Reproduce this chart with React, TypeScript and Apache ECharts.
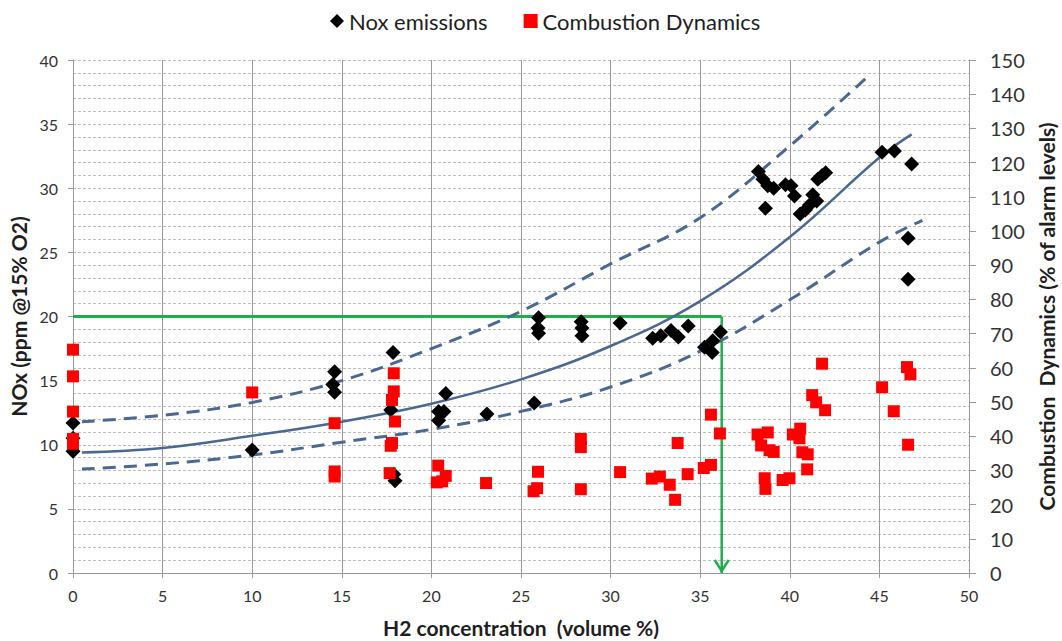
import React, { useEffect, useRef } from "react";
import * as echarts from "echarts";

// NOx emissions vs H2 concentration (left axis, ppm @15% O2)
const noxEmissions: [number, number][] = [
  [0, 11.7], [0, 10.5], [0, 9.5], [10, 9.6],
  [14.6, 15.7], [14.5, 14.7], [14.6, 14.1],
  [17.86, 17.2], [17.73, 12.7], [17.9, 7.7], [17.97, 7.2],
  [20.8, 14.0], [20.4, 12.6], [20.7, 12.6], [20.4, 11.9],
  [23.1, 12.4], [25.74, 13.25],
  [25.98, 19.9], [25.95, 19.1], [25.98, 18.7],
  [28.36, 19.6], [28.4, 19.1], [28.4, 18.5], [30.53, 19.5],
  [32.35, 18.3], [32.8, 18.5], [33.37, 18.9], [33.78, 18.4], [34.33, 19.25],
  [35.24, 17.6], [35.67, 17.2], [35.7, 18.1], [36.13, 18.8],
  [38.25, 31.3], [38.5, 30.7], [38.77, 30.2], [39.1, 30.0], [38.64, 28.45],
  [39.76, 30.27], [40.07, 30.2], [40.26, 29.4], [40.58, 28.0], [40.87, 28.3],
  [41.1, 28.7], [41.28, 29.5], [41.5, 29.0], [41.56, 30.7], [41.8, 31.0], [42.0, 31.2],
  [45.15, 32.8], [45.84, 32.9], [46.8, 31.9], [46.6, 26.1], [46.6, 22.9],
];

// Combustion dynamics vs H2 concentration (right axis, % of alarm levels)
const combustionDynamics: [number, number][] = [
  [0, 65.3], [0, 57.5], [0, 47.2], [0, 39.2], [0, 37.8],
  [10, 52.8],
  [14.6, 43.8], [14.6, 29.7], [14.6, 28.2],
  [17.9, 58.4], [17.9, 53.1], [17.8, 50.6], [17.97, 44.3], [17.73, 37.2], [17.8, 38.0], [17.67, 29.2],
  [20.38, 31.4], [20.3, 26.5], [20.8, 28.4], [20.6, 26.8],
  [23.05, 26.3],
  [25.95, 29.6], [25.9, 24.8], [25.7, 23.9],
  [28.34, 39.2], [28.34, 36.8], [28.34, 24.5],
  [30.53, 29.5],
  [32.3, 27.6], [32.75, 28.2], [33.3, 25.8], [33.6, 21.4], [33.74, 38.0], [34.3, 28.9],
  [35.2, 30.7], [35.6, 31.6], [35.6, 46.3], [36.1, 40.8],
  [38.2, 40.5], [38.77, 41.1], [38.4, 37.3], [38.87, 35.9], [39.1, 35.4], [38.6, 27.7], [38.64, 24.6],
  [39.6, 27.2], [39.98, 27.7], [40.17, 40.5], [40.58, 42.2], [40.54, 39.4], [40.7, 35.3], [41.0, 34.7], [40.97, 30.3],
  [41.25, 52.0], [41.47, 49.9], [41.97, 47.6], [41.8, 61.2],
  [45.15, 54.3], [45.8, 47.3], [46.54, 60.2], [46.73, 58.1], [46.6, 37.5],
];

// NOx trend curve and its upper / lower bands
const trendFit: [number, number][] = [
  [0.5, 9.4], [5, 9.75], [10, 10.7], [15, 11.8], [20, 13.2], [25, 15.1],
  [30, 17.7], [35, 21.2], [40, 26.2], [45, 32.4], [46.8, 34.2],
];
const trendUpper: [number, number][] = [
  [0.5, 11.8], [5, 12.3], [10, 13.3], [15, 15.0], [20, 17.5], [25, 20.4],
  [30, 24.1], [35, 27.7], [40, 33.3], [44.5, 38.9],
];
const trendLower: [number, number][] = [
  [0.5, 8.1], [5, 8.5], [10, 9.2], [15, 10.2], [20, 11.2], [25, 12.6],
  [30, 14.5], [35, 17.3], [40, 21.3], [45, 25.8], [47.4, 27.5],
];

// NOx limit and the H2 concentration where the trend reaches it
const noxLimit = 20;
const h2AtLimit = 36.2;

const FONT = "Lato, 'Open Sans', sans-serif";
const GREEN = "#22ad4a";
const TREND = "#4a6892";
const TEXT = "#1e1e1e";

export default function App() {
  const ref = useRef<HTMLDivElement>(null);

  useEffect(() => {
    const chart = echarts.init(ref.current!, null, { renderer: "svg" });
    chart.setOption({
      animation: false,
      backgroundColor: "#ffffff",
      textStyle: { fontFamily: FONT },
      legend: {
        top: 5,
        left: 325,
        itemGap: 36,
        itemWidth: 14,
        itemHeight: 14,
        textStyle: { fontFamily: FONT, fontSize: 22, color: TEXT },
        data: [
          { name: "Nox emissions", icon: "diamond" },
          { name: "Combustion Dynamics", icon: "rect" },
        ],
      },
      grid: {
        left: 73,
        right: 93,
        top: 60,
        bottom: 68,
        containLabel: false,
        outerBoundsMode: "none",
      },
      xAxis: {
        type: "value",
        min: 0,
        max: 50,
        interval: 5,
        name: "H2 concentration  (volume %)",
        nameLocation: "middle",
        nameGap: 44,
        nameTextStyle: { fontFamily: FONT, fontSize: 21, fontWeight: "bold", color: TEXT },
        axisLine: { show: true, lineStyle: { color: "#9a9a9a", width: 1 } },
        axisTick: { show: true, length: 5, lineStyle: { color: "#9a9a9a" } },
        axisLabel: { fontFamily: FONT, fontSize: 16, color: "#333", margin: 14 },
        splitLine: { show: true, lineStyle: { color: "#999999", width: 1 } },
      },
      yAxis: [
        {
          type: "value",
          min: 0,
          max: 40,
          interval: 5,
          position: "left",
          name: "NOx (ppm @15% O2)",
          nameLocation: "middle",
          nameRotate: 90,
          nameGap: 40,
          nameTextStyle: { fontFamily: FONT, fontSize: 21, fontWeight: "bold", color: TEXT },
          axisLine: { show: true, lineStyle: { color: "#9a9a9a", width: 1 } },
          axisTick: { show: true, length: 5, lineStyle: { color: "#9a9a9a" } },
          axisLabel: { fontFamily: FONT, fontSize: 16, color: "#333", margin: 15 },
          splitLine: { show: true, lineStyle: { color: "#bdbdbd", type: [3, 2], width: 1 } },
          minorTick: { show: false, splitNumber: 5 },
          minorSplitLine: { show: true, lineStyle: { color: "#bdbdbd", type: [3, 2], width: 1 } },
        },
        {
          type: "value",
          min: 0,
          max: 150,
          interval: 10,
          position: "right",
          name: "Combustion  Dynamics (% of alarm levels)",
          nameLocation: "middle",
          nameRotate: 90,
          nameGap: 67,
          nameTextStyle: { fontFamily: FONT, fontSize: 21, fontWeight: "bold", color: TEXT },
          axisLine: { show: true, lineStyle: { color: "#9a9a9a", width: 1 } },
          axisTick: { show: true, length: 7, lineStyle: { color: "#9a9a9a" } },
          axisLabel: { fontFamily: FONT, fontSize: 20, color: "#333", margin: 21 },
          splitLine: { show: false },
        },
      ],
      series: [
        {
          name: "limit",
          type: "line",
          yAxisIndex: 0,
          data: [[0, noxLimit], [h2AtLimit, noxLimit]],
          showSymbol: false,
          symbol: "none",
          lineStyle: { color: GREEN, width: 3 },
          z: 3,
        },
        {
          name: "limit drop",
          type: "line",
          yAxisIndex: 0,
          data: [[h2AtLimit, noxLimit], [h2AtLimit, 0]],
          showSymbol: false,
          symbol: "none",
          lineStyle: { color: GREEN, width: 2.5 },
          z: 3,
        },
        {
          name: "arrow",
          type: "custom",
          yAxisIndex: 0,
          data: [[h2AtLimit, 0]],
          renderItem: (_params: any, api: any) => {
            const p = api.coord([api.value(0), api.value(1)]);
            return {
              type: "polyline",
              shape: {
                points: [
                  [p[0] - 7, p[1] - 13],
                  [p[0], p[1] - 2],
                  [p[0] + 7, p[1] - 13],
                ],
              },
              style: { stroke: GREEN, lineWidth: 2.5, fill: "none" },
            };
          },
          z: 3,
        },
        {
          name: "trend",
          type: "line",
          yAxisIndex: 0,
          data: trendFit,
          smooth: 0.4,
          showSymbol: false,
          symbol: "none",
          lineStyle: { color: TREND, width: 2.5 },
          z: 4,
        },
        {
          name: "trend upper",
          type: "line",
          yAxisIndex: 0,
          data: trendUpper,
          smooth: 0.4,
          showSymbol: false,
          symbol: "none",
          lineStyle: { color: TREND, width: 3, type: [13, 8] },
          z: 4,
        },
        {
          name: "trend lower",
          type: "line",
          yAxisIndex: 0,
          data: trendLower,
          smooth: 0.4,
          showSymbol: false,
          symbol: "none",
          lineStyle: { color: TREND, width: 3, type: [13, 8] },
          z: 4,
        },
        {
          name: "Nox emissions",
          type: "scatter",
          yAxisIndex: 0,
          data: noxEmissions,
          symbol: "diamond",
          symbolSize: 15,
          itemStyle: { color: "#000000", opacity: 1 },
          z: 5,
        },
        {
          name: "Combustion Dynamics",
          type: "scatter",
          yAxisIndex: 1,
          data: combustionDynamics,
          symbol: "rect",
          symbolSize: 12,
          itemStyle: { color: "#ff0000", opacity: 1 },
          z: 6,
        },
      ],
    });
    return () => chart.dispose();
  }, []);

  return (
    <div
      ref={ref}
      style={{ position: "absolute", left: 0, top: 0, width: 1062, height: 641, background: "#fff" }}
    />
  );
}
